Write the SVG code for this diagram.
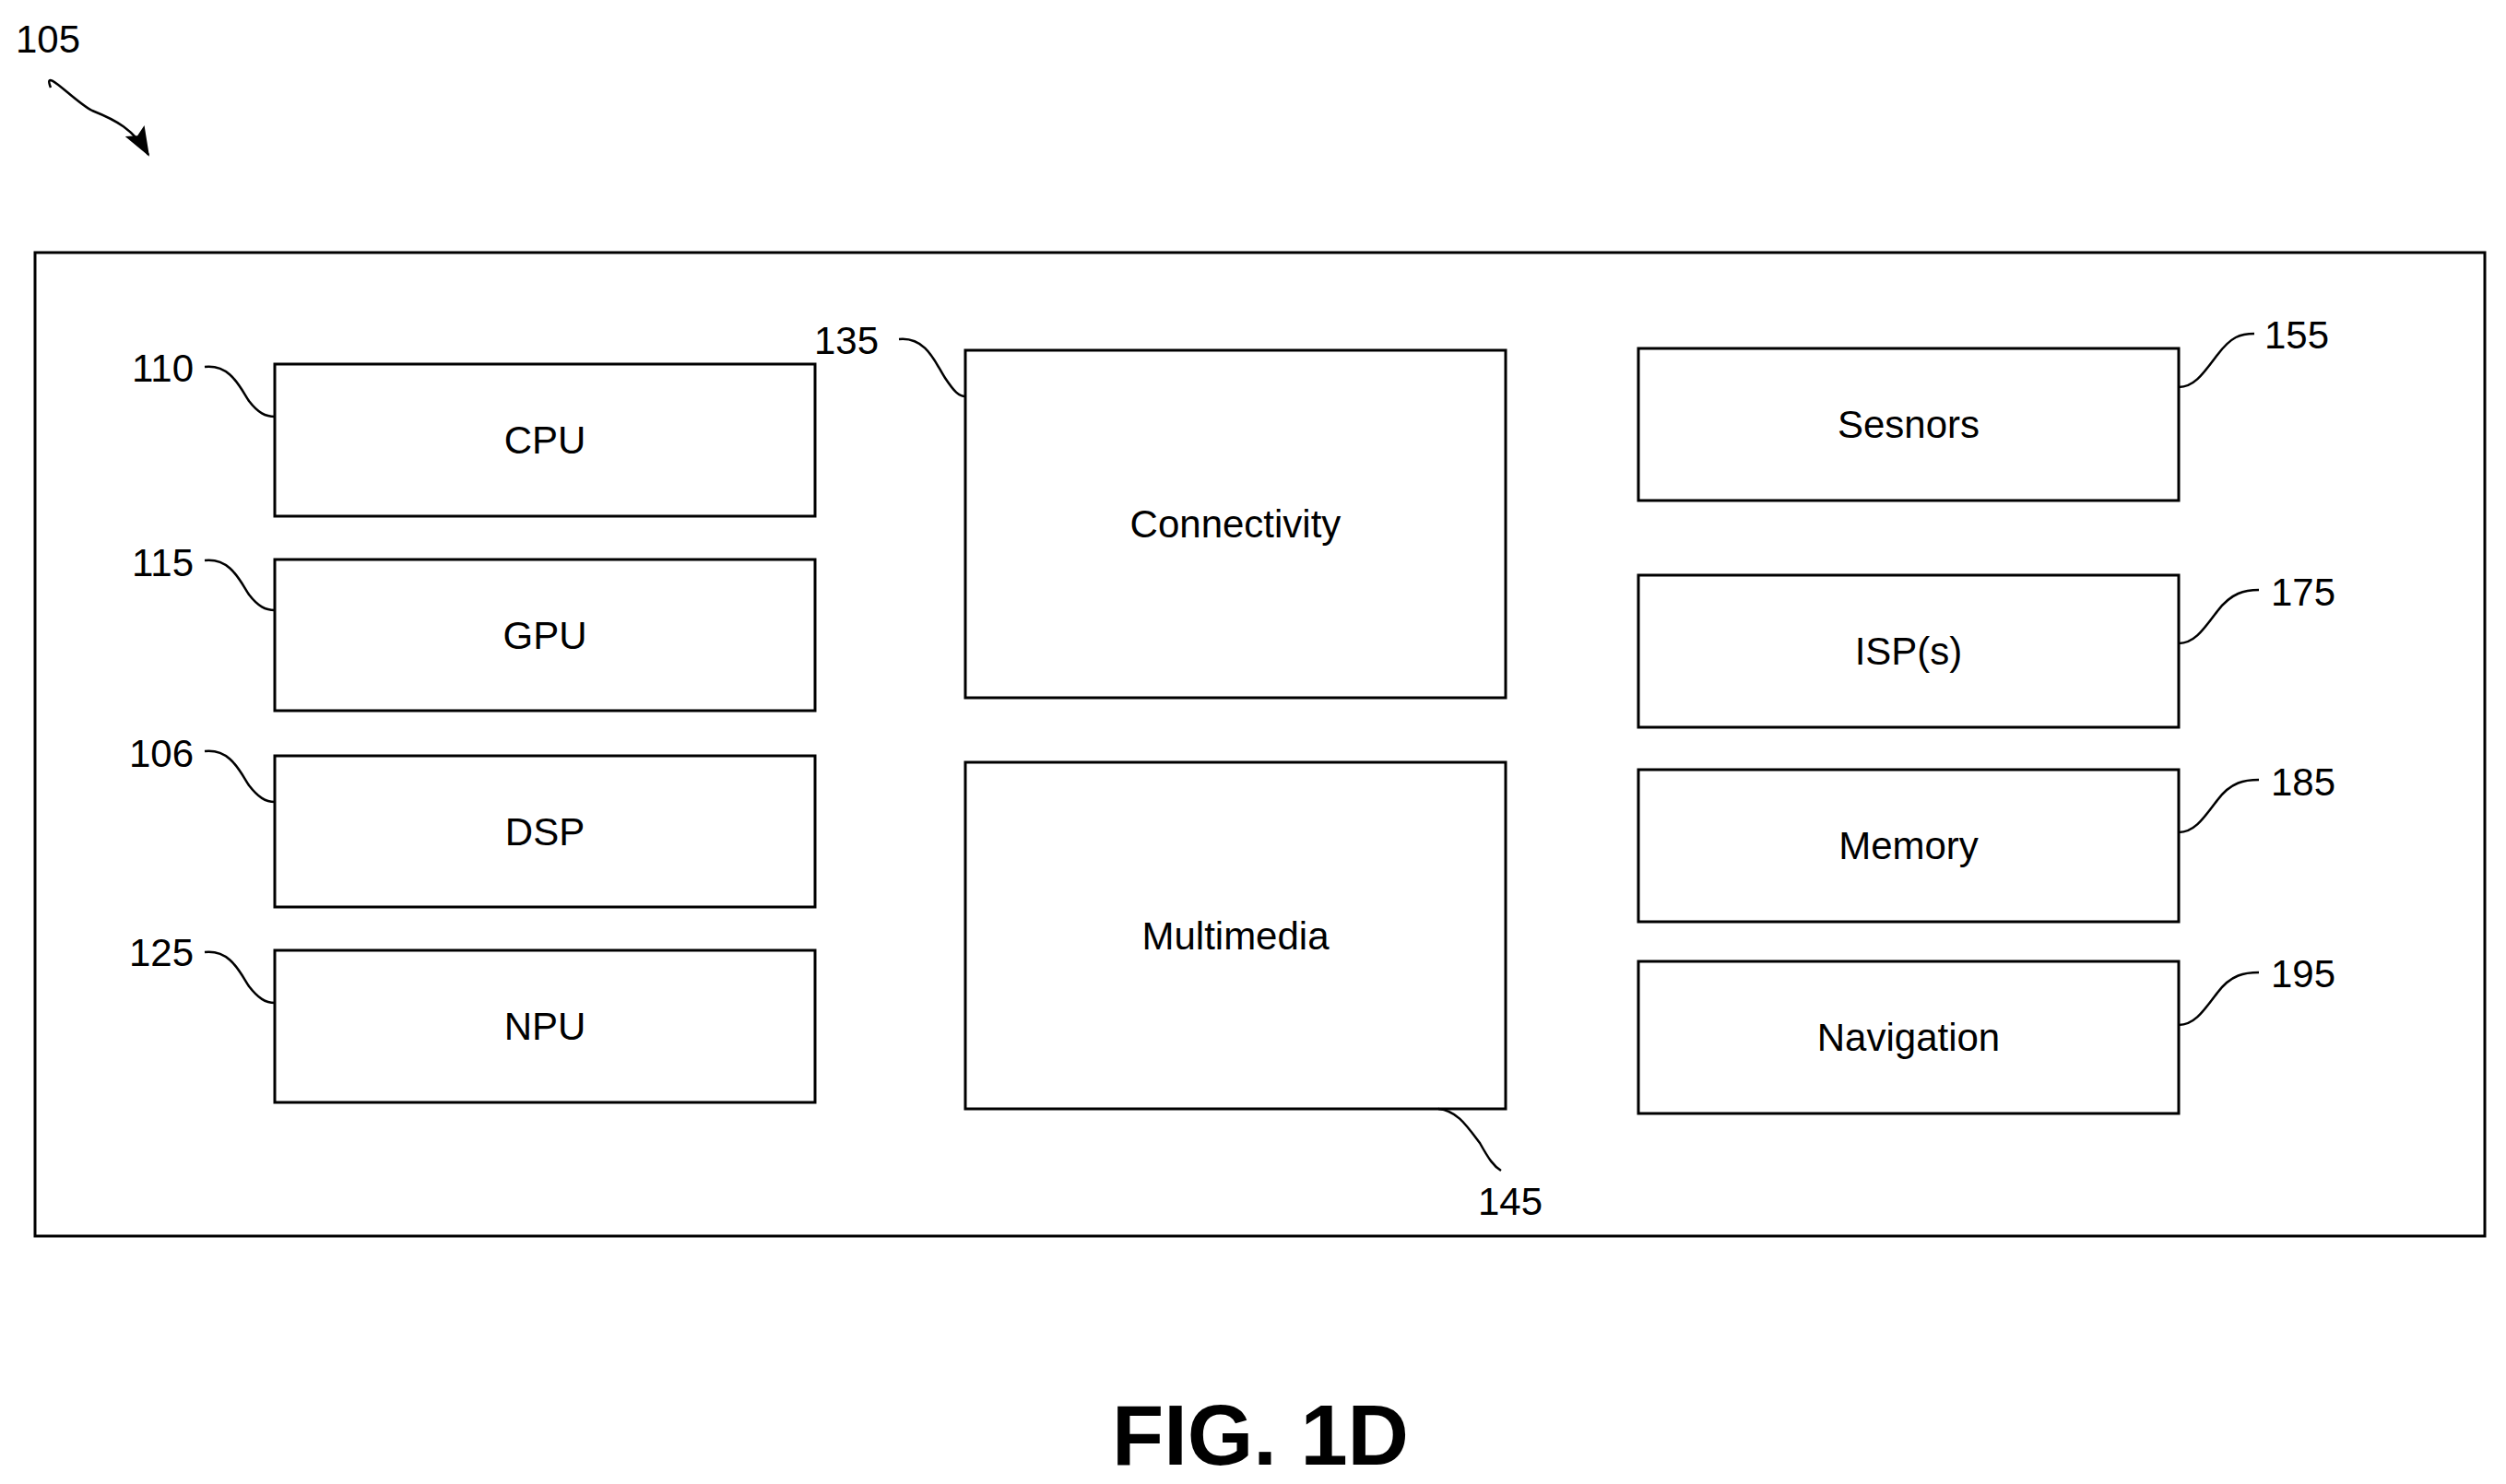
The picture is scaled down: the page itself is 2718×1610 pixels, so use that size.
<svg xmlns="http://www.w3.org/2000/svg" width="2718" height="1610" viewBox="0 0 2718 1610">
<style>
.b{fill:#fff;stroke:#000;stroke-width:3}
.t{font-family:"Liberation Sans",Arial,sans-serif;font-size:42px;text-anchor:middle;dominant-baseline:central}
.n{font-family:"Liberation Sans Narrow","Liberation Sans",sans-serif;font-size:42px}
.l{fill:none;stroke:#000;stroke-width:2.5}
</style>
<defs><marker id="a" markerWidth="32" markerHeight="24" refX="30" refY="12" orient="auto" markerUnits="userSpaceOnUse" viewBox="0 0 32 24"><path d="M0,0L32,12L0,24L6,12z"/></marker></defs>
<rect width="2718" height="1610" fill="#fff"/>
<rect x="38" y="274" width="2657" height="1067" class="b"/>
<g id="cpu"><rect x="298" y="395" width="586" height="165" class="b"/><text x="591" y="477" class="t">CPU</text></g>
<g id="gpu"><rect x="298" y="607" width="586" height="164" class="b"/><text x="591" y="689" class="t">GPU</text></g>
<g id="dsp"><rect x="298" y="820" width="586" height="164" class="b"/><text x="591" y="902" class="t">DSP</text></g>
<g id="npu"><rect x="298" y="1031" width="586" height="165" class="b"/><text x="591" y="1113" class="t">NPU</text></g>
<g id="conn"><rect x="1047" y="380" width="586" height="377" class="b"/><text x="1340" y="568" class="t">Connectivity</text></g>
<g id="mm"><rect x="1047" y="827" width="586" height="376" class="b"/><text x="1340" y="1015" class="t">Multimedia</text></g>
<g id="sens"><rect x="1777" y="378" width="586" height="165" class="b"/><text x="2070" y="460" class="t">Sesnors</text></g>
<g id="isp"><rect x="1777" y="624" width="586" height="165" class="b"/><text x="2070" y="706" class="t">ISP(s)</text></g>
<g id="mem"><rect x="1777" y="835" width="586" height="165" class="b"/><text x="2070" y="917" class="t">Memory</text></g>
<g id="nav"><rect x="1777" y="1043" width="586" height="165" class="b"/><text x="2070" y="1125" class="t">Navigation</text></g>
<g id="labels" class="n">
<text x="17" y="57">105</text>
<text x="210" y="414" text-anchor="end">110</text>
<text x="210" y="625" text-anchor="end">115</text>
<text x="210" y="832" text-anchor="end">106</text>
<text x="210" y="1048" text-anchor="end">125</text>
<text x="953" y="384" text-anchor="end">135</text>
<text x="2456" y="378">155</text>
<text x="2463" y="657">175</text>
<text x="2463" y="863">185</text>
<text x="2463" y="1071">195</text>
<text x="1603" y="1318">145</text>
</g>
<g id="connectors" class="l">
<path d="M55,95 C45,70 80,110 100,120 C125,130 145,140 161,168" marker-end="url(#a)"/>
<path d="M222,398 C250,395 260,420 270,435 C280,448 288,452 298,452"/>
<path d="M222,608 C250,605 260,630 270,645 C280,658 288,662 298,662"/>
<path d="M222,815 C250,812 260,837 270,852 C280,865 288,870 298,870"/>
<path d="M222,1033 C250,1030 260,1055 270,1070 C280,1083 288,1088 298,1088"/>
<path d="M975,368 C1005,365 1015,395 1025,410 C1035,425 1040,430 1047,430"/>
<path d="M2363,420 C2380,420 2390,405 2405,385 C2420,365 2430,362 2445,362"/>
<path d="M2363,698 C2380,698 2390,683 2405,663 C2420,643 2435,640 2450,640"/>
<path d="M2363,903 C2380,903 2390,888 2405,868 C2420,848 2435,846 2450,846"/>
<path d="M2363,1112 C2380,1112 2390,1097 2405,1077 C2420,1057 2435,1055 2450,1055"/>
<path d="M1560,1203 C1580,1205 1590,1220 1605,1240 C1615,1258 1620,1265 1628,1270"/>
</g>
<text x="1367" y="1589" font-family="Liberation Sans,Arial,sans-serif" font-weight="bold" font-size="92" text-anchor="middle">FIG. 1D</text>
</svg>
